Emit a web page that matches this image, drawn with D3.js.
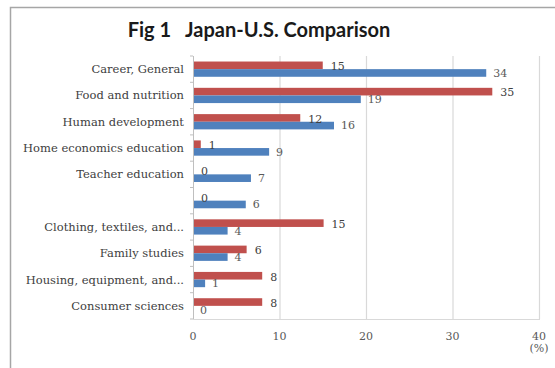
<!DOCTYPE html>
<html>
<head>
<meta charset="utf-8">
<script src="https://cdn.jsdelivr.net/npm/d3@7"></script>
<style>
  body { margin: 0; background: #fff; }
  svg { display: block; }
</style>
</head>
<body>
<div id="chart"></div>
<script>
var width = 555;
var height = 368;

var categories = ["Career, General", "Food and nutrition", "Human development",
  "Home economics education", "Teacher education", "",
  "Clothing, textiles, and...", "Family studies", "Housing, equipment, and...",
  "Consumer sciences"];
var japanValues = [15, 34.6, 12.4, 0.9, 0, 0, 15.1, 6.2, 8, 8];
var usValues = [33.9, 19.4, 16.3, 8.8, 6.7, 6.1, 4, 4, 1.4, 0];
var xTicks = [0, 10, 20, 30, 40];

var red = "#c0504d";
var blue = "#4f81bd";

var svg = d3.select("#chart")
  .append("svg")
  .attr("width", width)
  .attr("height", height);

svg.append("rect")
  .attr("width", width)
  .attr("height", height)
  .attr("fill", "#fff");

// outer chart border (runs off the picture on the right and bottom)
svg.append("rect")
  .attr("x", 10.5)
  .attr("y", 7.5)
  .attr("width", 600)
  .attr("height", 400)
  .attr("fill", "none")
  .attr("stroke", "#a6a6a6")
  .attr("stroke-width", 1.5);

svg.append("text")
  .attr("x", 259)
  .attr("y", 37)
  .attr("text-anchor", "middle")
  .attr("font-family", "Lato, 'Open Sans', sans-serif")
  .attr("font-weight", "bold")
  .attr("font-size", 20)
  .attr("fill", "#1a1a1a")
  .style("white-space", "pre")
  .text("Fig 1   Japan-U.S. Comparison");

var plotTop = 56, plotBottom = 319;

var x = d3.scaleLinear().domain([0, 40]).range([193, 539]);
var y = d3.scaleBand().domain(d3.range(categories.length)).range([plotTop, plotBottom])
  .paddingInner(0.42).paddingOuter(0.21);

// vertical gridlines
svg.append("g")
  .selectAll("line")
  .data(xTicks.slice(1))
  .enter().append("line")
  .attr("x1", function(d) { return x(d) + 0.5; })
  .attr("x2", function(d) { return x(d) + 0.5; })
  .attr("y1", plotTop)
  .attr("y2", plotBottom)
  .attr("stroke", "#d9d9d9")
  .attr("stroke-width", 1.2);

svg.append("line")
  .attr("x1", x(0)).attr("x2", x(40) + 1)
  .attr("y1", plotBottom + 0.5).attr("y2", plotBottom + 0.5)
  .attr("stroke", "#d9d9d9")
  .attr("stroke-width", 1.2);

// bars
var half = y.bandwidth() / 2;
var bars = svg.append("g");
bars.selectAll(".jp")
  .data(japanValues)
  .enter().append("rect")
  .attr("class", "jp")
  .attr("x", x(0))
  .attr("y", function(d, i) { return y(i); })
  .attr("width", function(d) { return x(d) - x(0); })
  .attr("height", half)
  .attr("fill", red);

bars.selectAll(".us")
  .data(usValues)
  .enter().append("rect")
  .attr("class", "us")
  .attr("x", x(0))
  .attr("y", function(d, i) { return y(i) + half; })
  .attr("width", function(d) { return x(d) - x(0); })
  .attr("height", half)
  .attr("fill", blue);

// category axis
var step = y.step();
svg.append("line")
  .attr("x1", x(0) + 0.5).attr("x2", x(0) + 0.5)
  .attr("y1", plotTop).attr("y2", plotBottom)
  .attr("stroke", "#bfbfbf");

svg.append("g")
  .selectAll("line")
  .data(d3.range(categories.length + 1))
  .enter().append("line")
  .attr("x1", x(0) - 3).attr("x2", x(0))
  .attr("y1", function(d) { return plotTop + d * step; })
  .attr("y2", function(d) { return plotTop + d * step; })
  .attr("stroke", "#bfbfbf");

var serif = "'DejaVu Serif', serif";

svg.append("g")
  .selectAll("text")
  .data(categories)
  .enter().append("text")
  .attr("x", 184)
  .attr("y", function(d, i) { return y(i) + half; })
  .attr("dy", "0.35em")
  .attr("text-anchor", "end")
  .attr("font-family", serif)
  .attr("font-size", 11.5)
  .attr("fill", "#404040")
  .text(function(d) { return d; });

// value labels
var fmt = d3.format(".0f");
var labels = svg.append("g")
  .attr("font-family", serif)
  .attr("font-size", 11)
  .attr("fill", "#404040");

labels.selectAll(".jpl")
  .data(japanValues)
  .enter().append("text")
  .attr("x", function(d) { return x(d) + 8; })
  .attr("y", function(d, i) { return y(i) + half / 2 + 1; })
  .attr("dy", "0.35em")
  .text(function(d) { return fmt(d); });

labels.selectAll(".usl")
  .data(usValues)
  .enter().append("text")
  .attr("x", function(d) { return x(d) + 7; })
  .attr("y", function(d, i) { return y(i) + half * 1.5; })
  .attr("dy", "0.35em")
  .attr("fill", "#595959")
  .text(function(d) { return fmt(d); });

// value axis tick labels
svg.append("g")
  .selectAll("text")
  .data(xTicks)
  .enter().append("text")
  .attr("x", function(d) { return x(d); })
  .attr("y", 336)
  .attr("dy", "0.35em")
  .attr("text-anchor", "middle")
  .attr("font-family", serif)
  .attr("font-size", 11)
  .attr("fill", "#595959")
  .text(function(d) { return d; });

svg.append("text")
  .attr("x", 539)
  .attr("y", 348)
  .attr("dy", "0.35em")
  .attr("text-anchor", "middle")
  .attr("font-family", serif)
  .attr("font-size", 11)
  .attr("fill", "#595959")
  .text("(%)");
</script>
</body>
</html>
